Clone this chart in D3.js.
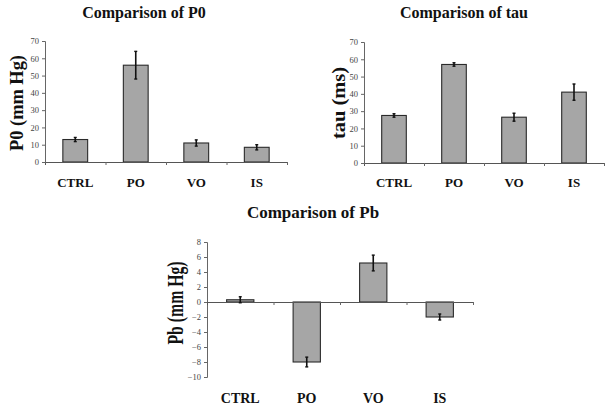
<!DOCTYPE html>
<html>
<head>
<meta charset="utf-8">
<script src="https://cdn.jsdelivr.net/npm/d3@7"></script>
<style>
  body { margin: 0; background: #fff; }
  svg text { font-family: "Liberation Serif", "Times New Roman", serif; }
</style>
</head>
<body>
<div id="chart"></div>
<script>
// categories shared by all three panels
const categories = ["CTRL", "PO", "VO", "IS"];

// P0 (mm Hg)
const p0Values = [13, 56, 11, 8.5];
const p0Errors = [1.2, 8, 1.8, 1.5];
const p0Ticks = [0, 10, 20, 30, 40, 50, 60, 70];

// tau (ms)
const tauValues = [27.5, 57, 26.5, 41];
const tauErrors = [1, 1, 2.3, 4.7];
const tauTicks = [0, 10, 20, 30, 40, 50, 60, 70];

// Pb (mm Hg)
const pbValues = [0.3, -8, 5.2, -2];
const pbErrors = [0.4, 0.65, 1.05, 0.4];
const pbTicks = [-10, -8, -6, -4, -2, 0, 2, 4, 6, 8];

const svg = d3.select("#chart")
  .append("svg")
  .attr("width", 614)
  .attr("height", 414);

// one panel: box in pixels, data, labels
function drawPanel(opts) {
  const g = svg.append("g");

  const x = d3.scaleBand()
    .domain(categories)
    .range([opts.left, opts.right]);

  // boundaries of the bands for tick marks
  const xEdge = d3.scaleLinear()
    .domain([0, categories.length])
    .range([opts.left, opts.right]);

  const y = d3.scaleLinear()
    .domain(d3.extent(opts.ticks))
    .range([opts.bottom, opts.top]);

  // y axis
  g.append("g")
    .attr("transform", `translate(${opts.left},0)`)
    .attr("font-family", "'Liberation Serif', serif")
    .call(d3.axisLeft(y).tickValues(opts.ticks).tickSize(3).tickPadding(3))
    .call(a => a.select(".domain").attr("stroke", "#666"))
    .call(a => a.selectAll(".tick line").attr("stroke", "#666"))
    .call(a => a.selectAll(".tick text")
      .attr("fill", "#444")
      .style("font-size", "8.5px"));

  // bars
  const bw = x.bandwidth() * 0.41;
  g.selectAll("rect.bar")
    .data(opts.values)
    .join("rect")
    .attr("class", "bar")
    .attr("x", (d, i) => x(categories[i]) + (x.bandwidth() - bw) / 2)
    .attr("y", d => y(Math.max(0, d)))
    .attr("width", bw)
    .attr("height", d => Math.abs(y(d) - y(0)))
    .attr("fill", "#a6a6a6")
    .attr("stroke", "#2a2a2a")
    .attr("stroke-width", 1.1);

  // x axis along zero line
  g.append("g")
    .attr("transform", `translate(0,${y(0)})`)
    .call(d3.axisBottom(xEdge).tickValues(d3.range(1, categories.length + 1)).tickSize(3).tickFormat(""))
    .call(a => a.select(".domain").attr("stroke", "#555"))
    .call(a => a.selectAll(".tick line").attr("stroke", "#666"));

  // error bars
  const eb = g.selectAll("g.err")
    .data(opts.values)
    .join("g")
    .attr("class", "err")
    .attr("transform", (d, i) => `translate(${x(categories[i]) + x.bandwidth() / 2},0)`);
  eb.append("line")
    .attr("y1", (d, i) => y(d - opts.errors[i]))
    .attr("y2", (d, i) => y(d + opts.errors[i]))
    .attr("stroke", "#111").attr("stroke-width", 1.6);
  eb.append("line")
    .attr("x1", -1.5).attr("x2", 1.5)
    .attr("y1", (d, i) => y(d - opts.errors[i]))
    .attr("y2", (d, i) => y(d - opts.errors[i]))
    .attr("stroke", "#111").attr("stroke-width", 1.4);
  eb.append("line")
    .attr("x1", -1.5).attr("x2", 1.5)
    .attr("y1", (d, i) => y(d + opts.errors[i]))
    .attr("y2", (d, i) => y(d + opts.errors[i]))
    .attr("stroke", "#111").attr("stroke-width", 1.4);

  // category labels
  g.selectAll("text.cat")
    .data(categories)
    .join("text")
    .attr("class", "cat")
    .attr("x", d => x(d) + x.bandwidth() / 2)
    .attr("y", opts.catY)
    .attr("text-anchor", "middle")
    .attr("font-weight", "bold")
    .attr("font-size", opts.catSize)
    .attr("fill", "#111")
    .text(d => d);

  // title
  g.append("text")
    .attr("x", opts.titleX)
    .attr("y", opts.titleY)
    .attr("text-anchor", "middle")
    .attr("font-weight", "bold")
    .attr("font-size", opts.titleSize)
    .attr("fill", "#111")
    .text(opts.title);

  // y label
  const yl = g.append("text")
    .attr("transform", `translate(${opts.ylabX},${opts.ylabY}) rotate(-90)`)
    .attr("text-anchor", "middle")
    .attr("font-weight", "bold")
    .attr("font-size", opts.ylabSize)
    .attr("fill", "#111")
    .text(opts.ylab);
  if (opts.ylabLen) {
    yl.attr("textLength", opts.ylabLen).attr("lengthAdjust", "spacingAndGlyphs");
  }
}

drawPanel({
  left: 45, right: 287, top: 41, bottom: 162,
  values: p0Values, errors: p0Errors, ticks: p0Ticks,
  title: "Comparison of P0", titleX: 144, titleY: 18, titleSize: 16,
  ylab: "P0 (mm Hg)", ylabX: 23, ylabY: 103, ylabSize: 19, ylabLen: 96,
  catY: 187, catSize: 13
});

drawPanel({
  left: 364, right: 604, top: 42, bottom: 163,
  values: tauValues, errors: tauErrors, ticks: tauTicks,
  title: "Comparison of tau", titleX: 464, titleY: 18, titleSize: 16,
  ylab: "tau (ms)", ylabX: 345, ylabY: 103, ylabSize: 19, ylabLen: 72,
  catY: 187, catSize: 13
});

drawPanel({
  left: 207, right: 473, top: 242, bottom: 377,
  values: pbValues, errors: pbErrors, ticks: pbTicks,
  title: "Comparison of Pb", titleX: 313, titleY: 218, titleSize: 17,
  ylab: "Pb (mm Hg)", ylabX: 183, ylabY: 303, ylabSize: 23, ylabLen: 83,
  catY: 403, catSize: 14
});
</script>
</body>
</html>
